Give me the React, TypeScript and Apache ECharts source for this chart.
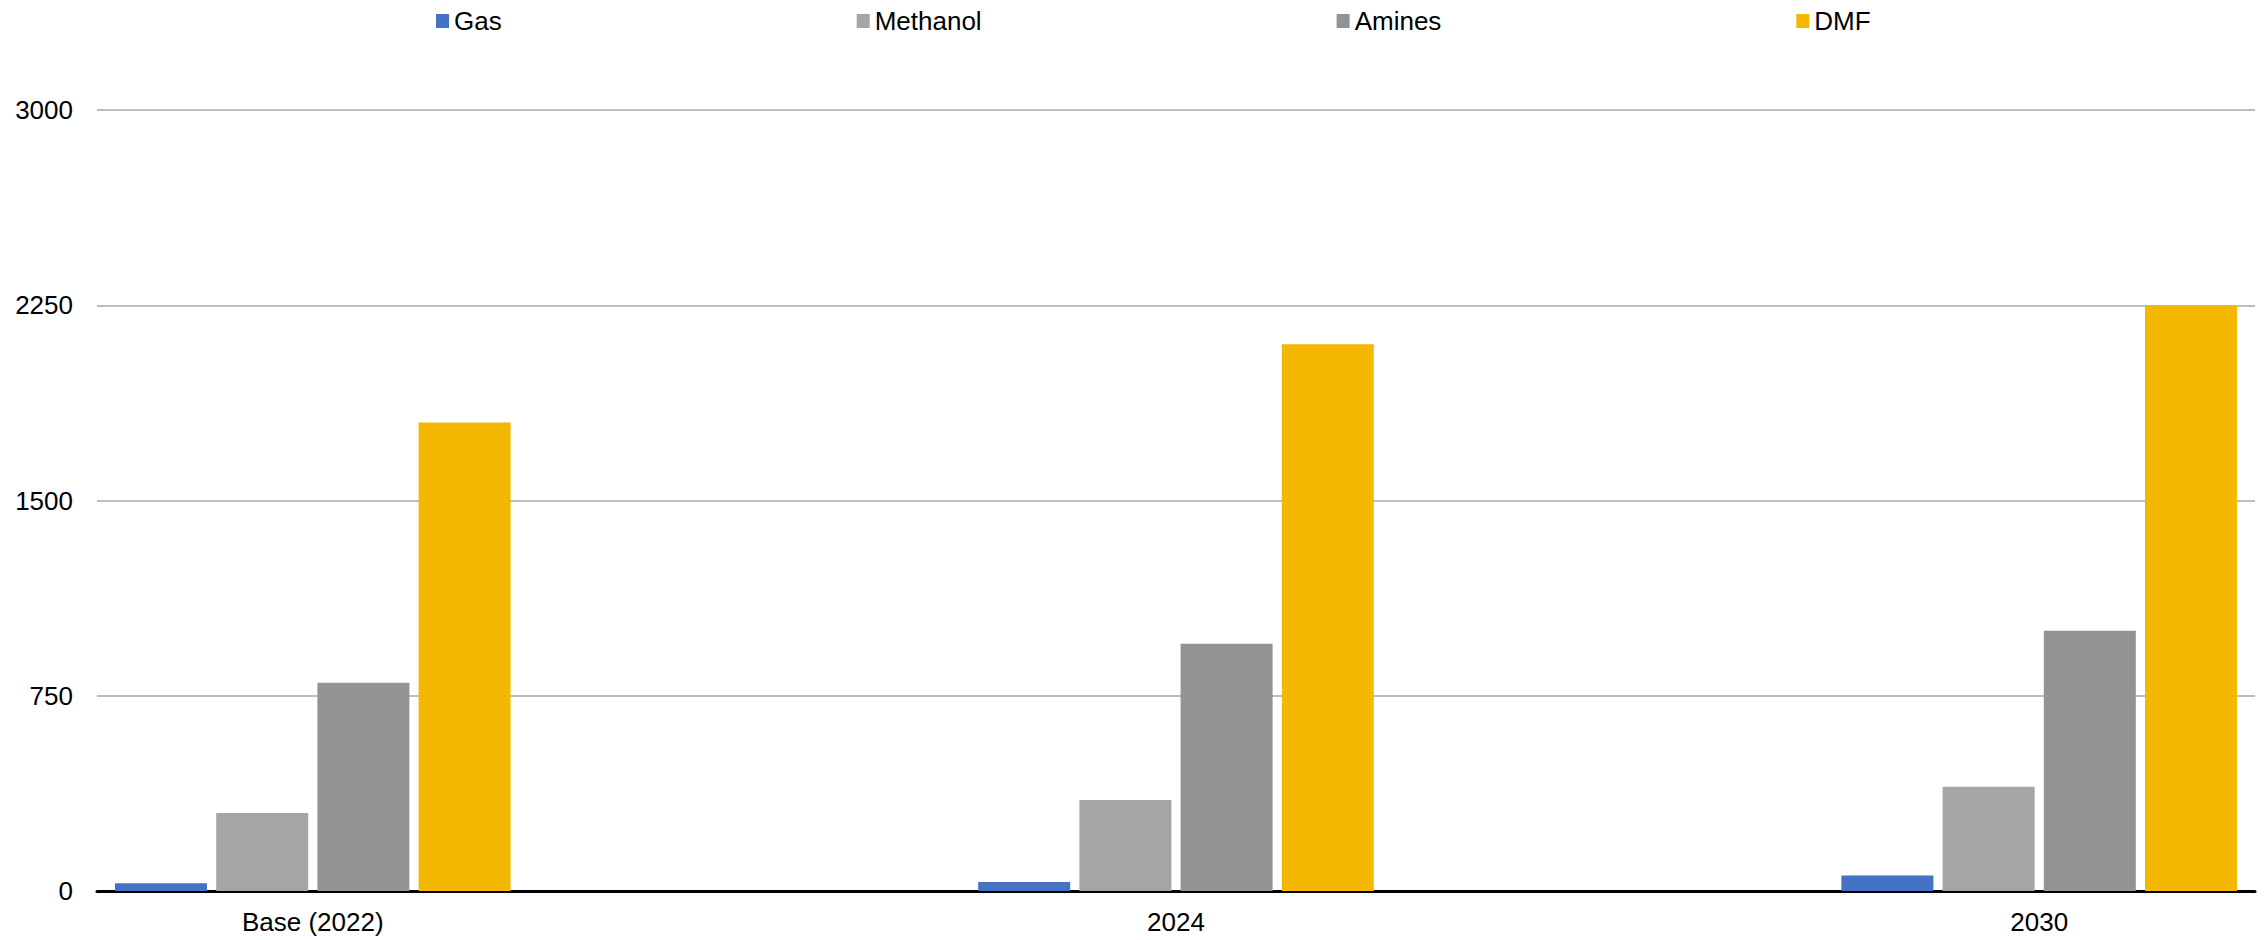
import React, { useEffect, useRef } from "react";
import * as echarts from "echarts";

// Scenario periods shown along the x axis
const categories = ["Base (2022)", "2024", "2030"];

// Series values per period
const gas = [30, 35, 60];
const methanol = [300, 350, 400];
const amines = [800, 950, 1000];
const dmf = [1800, 2100, 2250];

const seriesNames = ["Gas", "Methanol", "Amines", "DMF"];
const seriesColors = ["#4472C4", "#A5A5A5", "#939393", "#F5B800"];

// Value axis ticks
const yMin = 0;
const yMax = 3000;
const yStep = 750;

const FONT = "'Liberation Sans', Arial, Helvetica, sans-serif";

export default function App() {
  const ref = useRef<HTMLDivElement>(null);

  useEffect(() => {
    if (!ref.current) return;
    const chart = echarts.init(ref.current, undefined, { renderer: "svg" });

    const allValues = [gas, methanol, amines, dmf];

    const option: echarts.EChartsOption = {
      animation: false,
      backgroundColor: "#FFFFFF",
      textStyle: { fontFamily: FONT },
      legend: {
        top: 3,
        left: 431,
        itemWidth: 13,
        itemHeight: 14,
        itemGap: 355,
        icon: "rect",
        textStyle: { fontSize: 26, color: "#000000", fontFamily: FONT },
        data: seriesNames,
      },
      grid: {
        left: 97,
        right: 12,
        top: 110,
        bottom: 49,
        containLabel: false,
      },
      xAxis: {
        type: "value",
        min: -0.25,
        max: 2.25,
        interval: 0.25,
        splitLine: { show: false },
        axisTick: { show: false },
        axisLine: { show: true, lineStyle: { color: "#000000", width: 3 } },
        axisLabel: {
          fontSize: 26,
          color: "#000000",
          fontFamily: FONT,
          margin: 18,
          showMinLabel: true,
          showMaxLabel: true,
          formatter: (v: number) => {
            const i = Math.round(v);
            if (Math.abs(v - i) > 1e-6) return "";
            return categories[i] ?? "";
          },
        },
      },
      yAxis: {
        type: "value",
        min: yMin,
        max: yMax,
        interval: yStep,
        axisLine: { show: false },
        axisTick: { show: false },
        splitLine: { show: true, lineStyle: { color: "#BDBDBD", width: 2 } },
        axisLabel: {
          fontSize: 26,
          color: "#000000",
          fontFamily: FONT,
          margin: 24,
          formatter: (v: number) => String(v),
        },
      },
      series: seriesNames.map((name, s) => ({
        name,
        type: "bar" as const,
        barWidth: 92,
        barGap: "10%",
        itemStyle: { color: seriesColors[s] },
        data: allValues[s].map((v, i) => [i, v]),
      })),
    };

    chart.setOption(option);
    return () => chart.dispose();
  }, []);

  return (
    <div
      ref={ref}
      style={{
        position: "fixed",
        left: 0,
        top: 0,
        width: "2267px",
        height: "940px",
        background: "#FFFFFF",
      }}
    />
  );
}
